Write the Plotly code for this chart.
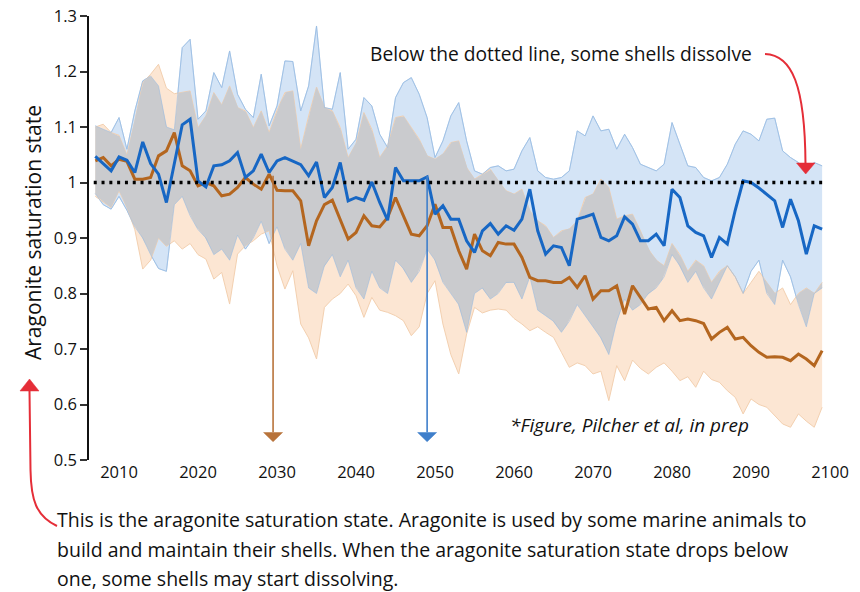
import numpy as np
import plotly.graph_objects as go

# ---------------- data ----------------
years = list(range(2007, 2100))

blue_mean = [1.047, 1.034, 1.021, 1.046, 1.040, 1.018, 1.073, 1.034, 1.015, 0.964,
             1.035, 1.104, 1.114, 1.003, 0.992, 1.030, 1.032, 1.039, 1.054, 1.009,
             1.021, 1.051, 1.018, 1.039, 1.045, 1.039, 1.032, 1.012, 1.037, 0.973,
             0.991, 1.036, 0.967, 0.973, 0.968, 1.001, 0.964, 0.932, 1.027, 1.003,
             1.003, 1.003, 1.010, 0.943, 0.958, 0.934, 0.934, 0.895, 0.874, 0.913,
             0.926, 0.907, 0.922, 0.914, 0.934, 0.988, 0.913, 0.871, 0.886, 0.883,
             0.850, 0.934, 0.938, 0.943, 0.901, 0.895, 0.904, 0.938, 0.925, 0.895,
             0.895, 0.907, 0.886, 0.988, 0.973, 0.922, 0.910, 0.904, 0.865, 0.901,
             0.889, 0.950, 1.003, 1.000, 0.990, 0.979, 0.967, 0.919, 0.970, 0.931,
             0.871, 0.922, 0.916]

brown_mean = [1.039, 1.045, 1.030, 1.042, 1.038, 1.006, 1.006, 1.009, 1.048, 1.057,
              1.090, 1.030, 1.021, 0.994, 1.000, 0.994, 0.976, 0.979, 0.991, 1.009,
              0.997, 0.988, 1.015, 0.986, 0.985, 0.985, 0.967, 0.886, 0.931, 0.960,
              0.968, 0.934, 0.898, 0.910, 0.940, 0.922, 0.920, 0.937, 0.973, 0.940,
              0.907, 0.904, 0.922, 0.961, 0.919, 0.919, 0.877, 0.844, 0.907, 0.877,
              0.868, 0.892, 0.889, 0.889, 0.865, 0.829, 0.823, 0.823, 0.820, 0.820,
              0.829, 0.811, 0.832, 0.790, 0.805, 0.805, 0.814, 0.763, 0.814, 0.793,
              0.772, 0.775, 0.751, 0.769, 0.751, 0.754, 0.751, 0.746, 0.718, 0.730,
              0.739, 0.718, 0.721, 0.706, 0.694, 0.685, 0.686, 0.685, 0.679, 0.691,
              0.682, 0.670, 0.697]

blue_upper = [1.102, 1.096, 1.090, 1.117, 1.060, 1.129, 1.183, 1.192, 1.174, 1.100,
              1.095, 1.243, 1.258, 1.114, 1.129, 1.198, 1.171, 1.237, 1.159, 1.132,
              1.117, 1.195, 1.102, 1.138, 1.219, 1.218, 1.129, 1.174, 1.282, 1.135,
              1.132, 1.198, 1.060, 1.078, 1.153, 1.138, 1.087, 1.063, 1.153, 1.180,
              1.189, 1.159, 1.117, 1.045, 1.075, 1.120, 1.144, 1.075, 1.021, 1.015,
              1.027, 1.030, 1.021, 1.024, 1.057, 1.081, 1.021, 1.009, 1.006, 1.009,
              1.021, 1.093, 1.084, 1.120, 1.093, 1.096, 1.060, 1.087, 1.063, 1.033,
              1.027, 1.021, 1.033, 1.108, 1.069, 1.030, 1.027, 1.009, 1.003, 1.009,
              1.033, 1.069, 1.093, 1.087, 1.075, 1.114, 1.116, 1.057, 1.045, 1.036,
              1.024, 1.036, 1.030]

blue_lower = [0.980, 0.960, 0.952, 0.975, 0.950, 0.920, 0.900, 0.870, 0.845, 0.840,
              0.960, 0.975, 0.940, 0.915, 0.900, 0.870, 0.880, 0.860, 0.905, 0.880,
              0.900, 0.930, 0.890, 0.920, 0.880, 0.860, 0.890, 0.810, 0.800, 0.850,
              0.870, 0.830, 0.860, 0.810, 0.790, 0.840, 0.810, 0.800, 0.860, 0.845,
              0.820, 0.840, 0.880, 0.860, 0.820, 0.800, 0.780, 0.730, 0.800, 0.810,
              0.790, 0.800, 0.820, 0.820, 0.790, 0.830, 0.770, 0.760, 0.750, 0.730,
              0.750, 0.780, 0.760, 0.740, 0.720, 0.690, 0.750, 0.790, 0.770, 0.780,
              0.800, 0.810, 0.830, 0.870, 0.850, 0.820, 0.840, 0.810, 0.790, 0.820,
              0.850, 0.830, 0.800, 0.840, 0.860, 0.800, 0.780, 0.860, 0.830, 0.780,
              0.740, 0.800, 0.810]

orange_upper = [1.100, 1.105, 1.090, 1.085, 1.050, 1.110, 1.180, 1.195, 1.213, 1.170,
                1.160, 1.162, 1.165, 1.099, 1.120, 1.162, 1.140, 1.174, 1.135, 1.129,
                1.099, 1.129, 1.090, 1.130, 1.162, 1.165, 1.060, 1.120, 1.172, 1.135,
                1.129, 1.099, 1.045, 1.070, 1.126, 1.096, 1.045, 1.066, 1.117, 1.120,
                1.099, 1.078, 1.048, 1.042, 1.051, 1.072, 1.075, 1.027, 1.006, 1.015,
                1.024, 1.003, 0.985, 0.979, 0.988, 0.949, 0.931, 0.922, 0.901, 0.913,
                0.916, 0.931, 0.973, 0.979, 1.006, 0.991, 0.934, 0.940, 0.943, 0.913,
                0.880, 0.860, 0.850, 0.890, 0.870, 0.840, 0.860, 0.850, 0.820, 0.840,
                0.850, 0.830, 0.800, 0.820, 0.840, 0.820, 0.800, 0.810, 0.780, 0.800,
                0.810, 0.800, 0.820]

orange_lower = [0.975, 0.965, 0.955, 0.985, 0.955, 0.915, 0.844, 0.860, 0.900, 0.885,
                0.895, 0.880, 0.890, 0.870, 0.862, 0.826, 0.838, 0.781, 0.871, 0.886,
                0.895, 0.907, 0.913, 0.850, 0.808, 0.841, 0.745, 0.720, 0.682, 0.775,
                0.790, 0.800, 0.817, 0.796, 0.757, 0.793, 0.770, 0.766, 0.760, 0.751,
                0.724, 0.740, 0.800, 0.823, 0.745, 0.690, 0.655, 0.727, 0.775, 0.765,
                0.770, 0.772, 0.770, 0.755, 0.745, 0.733, 0.740, 0.730, 0.721, 0.694,
                0.667, 0.675, 0.670, 0.655, 0.660, 0.607, 0.670, 0.643, 0.680, 0.665,
                0.655, 0.667, 0.675, 0.660, 0.643, 0.650, 0.631, 0.660, 0.645, 0.640,
                0.625, 0.613, 0.583, 0.610, 0.600, 0.595, 0.580, 0.565, 0.559, 0.583,
                0.570, 0.559, 0.595]

x_ticks = [2010, 2020, 2030, 2040, 2050, 2060, 2070, 2080, 2090, 2100]
y_ticks = [0.5, 0.6, 0.7, 0.8, 0.9, 1.0, 1.1, 1.2, 1.3]
y_tick_text = ["0.5", "0.6", "0.7", "0.8", "0.9", "1", "1.1", "1.2", "1.3"]

threshold = 1.0
brown_cross_year = 2029.5
blue_cross_year = 2049.0

# ---------------- styling ----------------
FONT = "Open Sans"
BLUE = "#1767C4"
BROWN = "#B4661F"
BLUE_FILL = "#D4E4F6"
BLUE_EDGE = "#AECBEA"
ORANGE_FILL = "#FCE6D3"
ORANGE_EDGE = "#F3D0B0"
GREY_FILL = "#CACBCE"
RED = "#E52E38"
TXT = "#111111"

W, H = 860, 592
L, R, T, B = 89, 832, 16, 460  # plot area in pixels


def px(X):
    return (X - L) / (R - L)


def py(Y):
    return (B - Y) / (B - T)


def ppath(segments, close=False):
    parts = []
    for cmd, pts in segments:
        if cmd == "C":
            parts.append("C " + " ".join(f"{px(a):.5f},{py(b):.5f}" for a, b in pts))
        else:
            for a, b in pts:
                parts.append(f"{cmd} {px(a):.5f},{py(b):.5f}")
    s = " ".join(parts)
    if close:
        s += " Z"
    return s


fig = go.Figure()

# bands
fig.add_trace(go.Scatter(x=years, y=blue_lower, mode="lines",
                         line=dict(color=BLUE_EDGE, width=1), hoverinfo="skip"))
fig.add_trace(go.Scatter(x=years, y=blue_upper, mode="lines", fill="tonexty",
                         fillcolor=BLUE_FILL, line=dict(color=BLUE_EDGE, width=1),
                         hoverinfo="skip"))
fig.add_trace(go.Scatter(x=years, y=orange_lower, mode="lines",
                         line=dict(color=ORANGE_EDGE, width=1), hoverinfo="skip"))
fig.add_trace(go.Scatter(x=years, y=orange_upper, mode="lines", fill="tonexty",
                         fillcolor=ORANGE_FILL, line=dict(color=ORANGE_EDGE, width=1),
                         hoverinfo="skip"))

# overlap of the two bands (grey)
fx = np.linspace(years[0], years[-1], (len(years) - 1) * 20 + 1)
lo = np.maximum(np.interp(fx, years, blue_lower), np.interp(fx, years, orange_lower))
hi = np.minimum(np.interp(fx, years, blue_upper), np.interp(fx, years, orange_upper))
mask = hi >= lo
gx, gy = [], []
i, n = 0, len(fx)
while i < n:
    if mask[i]:
        j = i
        while j < n and mask[j]:
            j += 1
        segx = list(fx[i:j])
        gx += segx + segx[::-1] + [None]
        gy += list(hi[i:j]) + list(lo[i:j][::-1]) + [None]
        i = j
    else:
        i += 1
fig.add_trace(go.Scatter(x=gx, y=gy, mode="lines", fill="toself", fillcolor=GREY_FILL,
                         line=dict(width=0), hoverinfo="skip"))

# faint band edges on top of the grey
for arr in (blue_upper, blue_lower):
    fig.add_trace(go.Scatter(x=years, y=arr, mode="lines",
                             line=dict(color="rgba(150,185,225,0.55)", width=1),
                             hoverinfo="skip"))

# mean lines
fig.add_trace(go.Scatter(x=years, y=brown_mean, mode="lines",
                         line=dict(color=BROWN, width=3), hoverinfo="skip"))
fig.add_trace(go.Scatter(x=years, y=blue_mean, mode="lines",
                         line=dict(color=BLUE, width=3), hoverinfo="skip"))

shapes = []
# dotted threshold line
shapes.append(dict(type="line", xref="x", yref="y", x0=2006.8, x1=2099.4,
                   y0=threshold, y1=threshold, layer="above",
                   line=dict(color="black", width=3.5, dash="3px,4.8px")))

# vertical arrows
for xc, col in [(brown_cross_year, "#B8733A"), (blue_cross_year, "#3F7FCB")]:
    shapes.append(dict(type="line", xref="x", yref="y", x0=xc, x1=xc, y0=1.012, y1=0.55,
                       layer="above", line=dict(color=col, width=1.6)))
    shapes.append(dict(type="path", xref="x", yref="y", layer="above",
                       path=f"M {xc-1.2},0.5495 L {xc+1.2},0.5495 L {xc},0.533 Z",
                       fillcolor=col, line=dict(color=col, width=0.5)))

# red curved arrow (top right)
shapes.append(dict(type="path", xref="paper", yref="paper", layer="above",
                   path=ppath([("M", [(765, 54)]), ("C", [(792, 55), (805, 85), (805.5, 164)])]),
                   line=dict(color=RED, width=2)))
shapes.append(dict(type="path", xref="paper", yref="paper", layer="above",
                   path=ppath([("M", [(796.5, 163)]), ("L", [(815, 163), (805.7, 174)])], close=True),
                   fillcolor=RED, line=dict(color=RED, width=0.5)))
# red curved arrow (bottom left)
shapes.append(dict(type="path", xref="paper", yref="paper", layer="above",
                   path=ppath([("M", [(57, 526)]), ("C", [(36, 516), (31, 500), (30.5, 470)]),
                               ("L", [(29.5, 391)])]),
                   line=dict(color=RED, width=2)))
shapes.append(dict(type="path", xref="paper", yref="paper", layer="above",
                   path=ppath([("M", [(20, 391)]), ("L", [(39, 391), (29.5, 379)])], close=True),
                   fillcolor=RED, line=dict(color=RED, width=0.5)))

annotations = []
annotations.append(dict(xref="paper", yref="paper", x=px(33), y=py(233),
                        text="Aragonite saturation state",
                        textangle=-90, showarrow=False, xanchor="center", yanchor="middle",
                        font=dict(family=FONT, size=21, color=TXT)))
annotations.append(dict(xref="paper", yref="paper", x=px(368), y=py(53),
                        text="Below the dotted line, some shells dissolve",
                        showarrow=False, xanchor="left", yanchor="middle",
                        font=dict(family=FONT, size=19.2, color=TXT)))
annotations.append(dict(xref="paper", yref="paper", x=px(508), y=py(425),
                        text="<i>*Figure, Pilcher et al, in prep</i>",
                        showarrow=False, xanchor="left", yanchor="middle",
                        font=dict(family=FONT, size=19, color=TXT)))
bottom_lines = [
    "This is the aragonite saturation state. Aragonite is used by some marine animals to",
    "build and maintain their shells. When the aragonite saturation state drops below",
    "one, some shells may start dissolving.",
]
bottom_y = [519.5, 549.0, 578.0]
for line, yy in zip(bottom_lines, bottom_y):
    annotations.append(dict(xref="paper", yref="paper", x=px(56), y=py(yy),
                            text=line, showarrow=False, xanchor="left", yanchor="middle",
                            borderpad=0,
                            font=dict(family=FONT, size=19.5, color=TXT)))

fig.update_layout(
    width=W, height=H,
    margin=dict(l=L, r=W - R, t=T, b=H - B, autoexpand=False),
    paper_bgcolor="white", plot_bgcolor="white",
    showlegend=False,
    font=dict(family=FONT, color=TXT),
    xaxis=dict(range=[2006.2, 2100.25], tickmode="array", tickvals=x_ticks,
               ticktext=[str(v) for v in x_ticks], showgrid=False, zeroline=False,
               showline=False, ticks="", automargin=False,
               tickfont=dict(family=FONT, size=16.5, color=TXT), fixedrange=True),
    yaxis=dict(range=[0.5, 1.3], tickmode="array", tickvals=y_ticks, ticktext=y_tick_text,
               showgrid=False, zeroline=False, showline=True, linecolor=TXT, linewidth=1.5,
               ticks="outside", ticklen=7, tickwidth=1.5, tickcolor="#333333",
               automargin=False,
               tickfont=dict(family=FONT, size=16.5, color=TXT), fixedrange=True),
    shapes=shapes,
    annotations=annotations,
)

fig.write_html("out.html", config={"displayModeBar": False},
               post_script="document.body.style.margin='0px';document.body.style.overflow='hidden';")
